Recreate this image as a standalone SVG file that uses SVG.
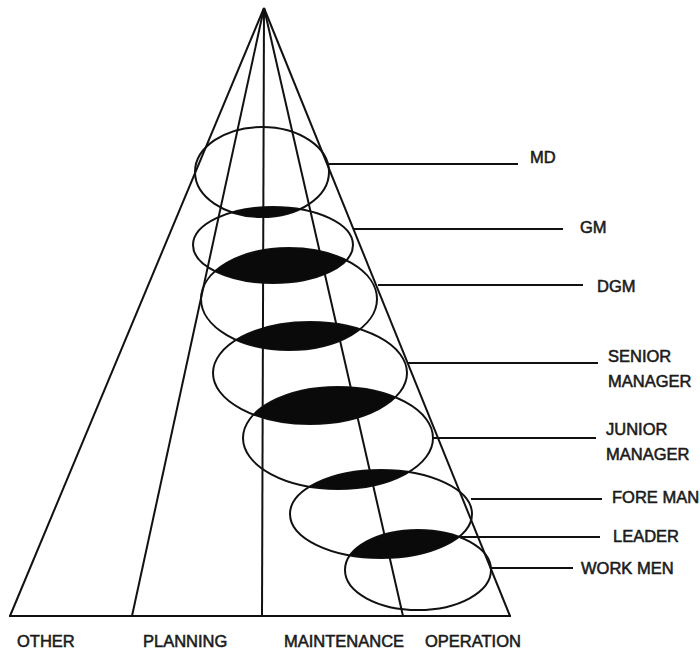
<svg xmlns="http://www.w3.org/2000/svg" width="700" height="651" viewBox="0 0 700 651">
<style>
.o{fill:none;stroke:#111;stroke-width:2}
.f{fill:#0a0a0a;stroke:none}
.l{stroke:#111;stroke-width:2;fill:none}
.t{font-family:"Liberation Sans",Arial,sans-serif;font-size:16.5px;fill:#1a1a1a;stroke:#1a1a1a;stroke-width:0.55}
</style>
<defs>
<clipPath id="cMD"><ellipse cx="262" cy="172" rx="67" ry="45"/></clipPath>
<clipPath id="cGM"><ellipse cx="273" cy="245" rx="80" ry="38"/></clipPath>
<clipPath id="cDGM"><ellipse cx="289" cy="299" rx="88" ry="51"/></clipPath>
<clipPath id="cSM"><ellipse cx="310" cy="373" rx="97" ry="51"/></clipPath>
<clipPath id="cJM"><ellipse cx="338" cy="438" rx="95" ry="51"/></clipPath>
<clipPath id="cFM"><ellipse cx="381" cy="514" rx="91" ry="44"/></clipPath>
</defs>
<rect width="700" height="651" fill="#fff"/>
<g id="pyramid">
<line class="l" x1="264" y1="8" x2="10" y2="616"/>
<line class="l" x1="264" y1="8" x2="132" y2="616"/>
<line class="l" x1="264" y1="8" x2="262" y2="616"/>
<line class="l" x1="264" y1="8" x2="403" y2="616"/>
<line class="l" x1="264" y1="8" x2="510" y2="616"/>
<line class="l" x1="9" y1="616" x2="511" y2="616" stroke-width="2.5"/>
</g>
<g id="md">
<ellipse class="o" cx="262" cy="172" rx="67" ry="45"/>
<text class="t" x="530" y="163">MD</text>
</g>
<g id="gm">
<ellipse class="o" cx="273" cy="245" rx="80" ry="38"/>
<text class="t" x="580" y="233">GM</text>
</g>
<g id="dgm">
<ellipse class="o" cx="289" cy="299" rx="88" ry="51"/>
<text class="t" x="597" y="292">DGM</text>
</g>
<g id="senior-manager">
<ellipse class="o" cx="310" cy="373" rx="97" ry="51"/>
<text class="t" x="608" y="362">SENIOR</text>
<text class="t" x="608" y="387">MANAGER</text>
</g>
<g id="junior-manager">
<ellipse class="o" cx="338" cy="438" rx="95" ry="51"/>
<text class="t" x="606" y="435">JUNIOR</text>
<text class="t" x="606" y="460">MANAGER</text>
</g>
<g id="fore-man">
<ellipse class="o" cx="381" cy="514" rx="91" ry="44"/>
<text class="t" x="612" y="503">FORE MAN</text>
</g>
<g id="work-men">
<ellipse class="o" cx="418" cy="570" rx="73" ry="40"/>
<text class="t" x="581" y="574">WORK MEN</text>
</g>
<g id="overlaps">
<ellipse class="f" cx="273" cy="245" rx="80" ry="38" clip-path="url(#cMD)"/>
<ellipse class="f" cx="289" cy="299" rx="88" ry="51" clip-path="url(#cGM)"/>
<ellipse class="f" cx="310" cy="373" rx="97" ry="51" clip-path="url(#cDGM)"/>
<ellipse class="f" cx="338" cy="438" rx="95" ry="51" clip-path="url(#cSM)"/>
<ellipse class="f" cx="381" cy="514" rx="91" ry="44" clip-path="url(#cJM)"/>
<ellipse class="f" cx="418" cy="570" rx="73" ry="40" clip-path="url(#cFM)"/>
</g>
<g id="leader">
<text class="t" x="613" y="542">LEADER</text>
</g>
<g id="connectors">
<line class="l" x1="329" y1="164" x2="518" y2="164"/>
<line class="l" x1="353" y1="229" x2="563" y2="229"/>
<line class="l" x1="378" y1="285" x2="583" y2="285"/>
<line class="l" x1="407" y1="363" x2="598" y2="363"/>
<line class="l" x1="433" y1="438" x2="596" y2="438"/>
<line class="l" x1="471" y1="499" x2="602" y2="499"/>
<line class="l" x1="460" y1="537" x2="600" y2="537"/>
<line class="l" x1="491" y1="568" x2="573" y2="568"/>
</g>
<g id="categories">
<text class="t" x="17" y="647">OTHER</text>
<text class="t" x="143" y="647">PLANNING</text>
<text class="t" x="284" y="647">MAINTENANCE</text>
<text class="t" x="425" y="647">OPERATION</text>
</g>
</svg>
